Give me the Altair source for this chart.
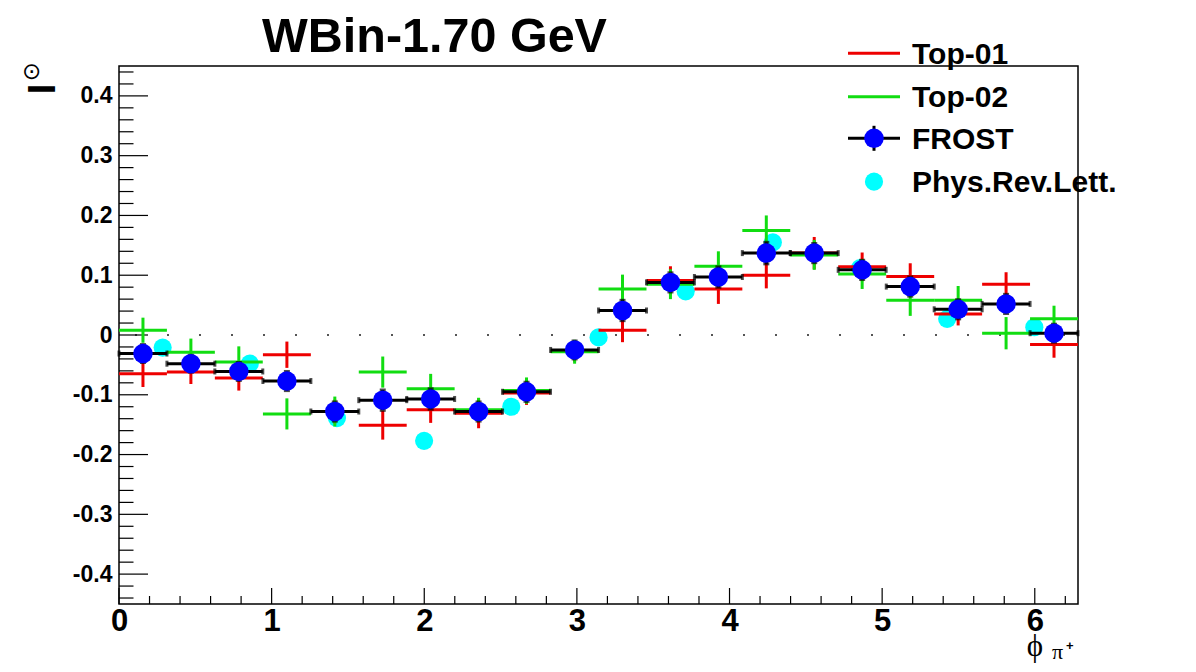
import math
import numpy as np
import pandas as pd
import altair as alt

# ---------------- data ----------------
BIN_CENTERS = [0.157, 0.471, 0.785, 1.100, 1.414, 1.728, 2.042, 2.356, 2.670, 2.985,
               3.299, 3.613, 3.927, 4.241, 4.555, 4.869, 5.184, 5.498, 5.812, 6.126]
BIN_HALF_WIDTH = 0.157

FROST_Y = [-0.031, -0.048, -0.061, -0.077, -0.128, -0.109, -0.107, -0.128, -0.095, -0.025,
           0.041, 0.088, 0.097, 0.137, 0.137, 0.109, 0.081, 0.043, 0.052, 0.003]
FROST_ERR = [0.015, 0.014, 0.015, 0.016, 0.016, 0.017, 0.017, 0.016, 0.016, 0.015,
             0.017, 0.016, 0.017, 0.018, 0.016, 0.016, 0.016, 0.016, 0.016, 0.015]

TOP01_Y = [-0.065, -0.062, -0.072, -0.033, -0.128, -0.151, -0.125, -0.131, -0.097, -0.027,
           0.008, 0.091, 0.077, 0.100, 0.137, 0.114, 0.098, 0.035, 0.085, -0.016]
TOP01_ERR = [0.022, 0.020, 0.021, 0.022, 0.020, 0.024, 0.022, 0.025, 0.020, 0.018,
             0.020, 0.024, 0.025, 0.022, 0.027, 0.024, 0.022, 0.019, 0.020, 0.022]

TOP02_Y = [0.008, -0.029, -0.045, -0.132, -0.128, -0.062, -0.090, -0.125, -0.093, -0.028,
           0.077, 0.085, 0.115, 0.175, 0.134, 0.102, 0.058, 0.058, 0.003, 0.027]
TOP02_ERR = [0.021, 0.023, 0.026, 0.026, 0.025, 0.026, 0.025, 0.020, 0.022, 0.020,
             0.024, 0.025, 0.025, 0.025, 0.025, 0.025, 0.026, 0.024, 0.027, 0.022]

PRL_X = [0.286, 0.857, 1.428, 1.999, 2.570, 3.142, 3.713, 4.284, 4.855, 5.426, 5.997]
PRL_Y = [-0.021, -0.048, -0.139, -0.177, -0.120, -0.004, 0.073, 0.155, 0.112, 0.027, 0.013]

SERIES_NAMES = ["Top-01", "Top-02", "FROST", "Phys.Rev.Lett."]
TITLE = "WBin-1.70 GeV"

X_MAJOR = [0, 1, 2, 3, 4, 5, 6]
X_MINOR = [round(0.2 * i, 1) for i in range(1, 32) if i % 5 != 0]
Y_MAJOR = [-0.4, -0.3, -0.2, -0.1, 0.0, 0.1, 0.2, 0.3, 0.4]
Y_MINOR = [round(-0.44 + 0.02 * i, 2) for i in range(45) if (i - 2) % 5 != 0]

# ---------------- styling ----------------
W, H = 959, 538
XMAX = 2 * math.pi
FONT = "Liberation Sans"
NARROW = "Liberation Sans Narrow, Liberation Sans"
SERIF = "Liberation Serif"
RED = "#ee0000"
GREEN = "#11dd11"
BLUE = "#0000ff"
CYAN = "#00ffff"

x_scale = alt.Scale(domain=[0, XMAX], nice=False, zero=False)
y_scale = alt.Scale(domain=[-0.45, 0.45], nice=False, zero=False)

x_axis = alt.Axis(values=X_MAJOR, ticks=False, tickSize=0, domain=False, grid=False, title=None,
                  labelFont=NARROW, labelFontWeight="bold", labelFontSize=31, labelColor="black",
                  labelBaseline="alphabetic", labelPadding=26, labelFlush=False, format="d")
y_axis = alt.Axis(values=Y_MAJOR, ticks=False, tickSize=0, domain=False, grid=False, title=None,
                  labelFont=FONT, labelFontWeight="bold", labelFontSize=23, labelColor="black",
                  labelPadding=7, labelFlush=False,
                  labelExpr="datum.value == 0 ? '0' : (datum.value < 0 ? '-' : '') + format(abs(datum.value), '.1f')")


def X(f):
    return alt.X(f, type="quantitative", scale=x_scale, axis=x_axis)


def Y(f):
    return alt.Y(f, type="quantitative", scale=y_scale, axis=y_axis)


def binned(values, errs):
    df = pd.DataFrame({"x": BIN_CENTERS, "y": values, "err": errs})
    df["xlo"] = df["x"] - BIN_HALF_WIDTH
    df["xhi"] = df["x"] + BIN_HALF_WIDTH
    df["ylo"] = df["y"] - df["err"]
    df["yhi"] = df["y"] + df["err"]
    return df


def crosses(df, color, width=3):
    base = alt.Chart(df)
    h = base.mark_rule(color=color, strokeWidth=width).encode(x=X("xlo"), x2=alt.X2("xhi"), y=Y("y"))
    v = base.mark_rule(color=color, strokeWidth=width).encode(x=X("x"), y=Y("ylo"), y2=alt.Y2("yhi"))
    return [h, v]


top01 = binned(TOP01_Y, TOP01_ERR)
top02 = binned(TOP02_Y, TOP02_ERR)
frost = binned(FROST_Y, FROST_ERR)
prl = pd.DataFrame({"x": PRL_X, "y": PRL_Y})

layers = []

# dotted zero line
zero = pd.DataFrame({"x0": [0.0], "x1": [XMAX], "y": [0.0]})
layers.append(alt.Chart(zero).mark_rule(color="#555555", strokeWidth=2, strokeDash=[2, 30],
                                        strokeDashOffset=16)
              .encode(x=X("x0"), x2=alt.X2("x1"), y=Y("y")))

# inward ROOT-style ticks
layers.append(alt.Chart(pd.DataFrame({"v": Y_MAJOR})).mark_rule(color="black", strokeWidth=1.2)
              .encode(y=Y("v"), x=alt.value(0), x2=alt.value(29)))
layers.append(alt.Chart(pd.DataFrame({"v": Y_MINOR})).mark_rule(color="black", strokeWidth=1.2)
              .encode(y=Y("v"), x=alt.value(0), x2=alt.value(14.5)))
layers.append(alt.Chart(pd.DataFrame({"v": X_MAJOR})).mark_rule(color="black", strokeWidth=1.2)
              .encode(x=X("v"), y=alt.value(H), y2=alt.value(H - 16)))
layers.append(alt.Chart(pd.DataFrame({"v": X_MINOR})).mark_rule(color="black", strokeWidth=1.2)
              .encode(x=X("v"), y=alt.value(H), y2=alt.value(H - 8)))

# Phys.Rev.Lett. points
layers.append(alt.Chart(prl).mark_point(filled=True, size=330, color=CYAN, opacity=1)
              .encode(x=X("x"), y=Y("y")))

# Top-01 and Top-02 crosses
layers += crosses(top01, RED)
layers += crosses(top02, GREEN)

# FROST error bars with caps and markers
layers += crosses(frost, "black", 3)
fb = alt.Chart(frost)
layers.append(fb.mark_tick(orient="vertical", color="black", size=6, thickness=3)
              .encode(x=X("xlo"), y=Y("y")))
layers.append(fb.mark_tick(orient="vertical", color="black", size=6, thickness=3)
              .encode(x=X("xhi"), y=Y("y")))
layers.append(fb.mark_tick(orient="horizontal", color="black", size=6, thickness=3)
              .encode(x=X("x"), y=Y("ylo")))
layers.append(fb.mark_tick(orient="horizontal", color="black", size=6, thickness=3)
              .encode(x=X("x"), y=Y("yhi")))
layers.append(fb.mark_point(filled=True, size=380, color=BLUE, opacity=1)
              .encode(x=X("x"), y=Y("y")))

# ---------------- legend (drawn in the top-right corner) ----------------
one = pd.DataFrame({"a": [0]})
LX0, LX1, LXC, LTX = 729, 781, 755, 793
ROWS = [-12.7, 30.7, 72.3, 115.7]
layers.append(alt.Chart(one).mark_rule(color=RED, strokeWidth=3)
              .encode(x=alt.value(LX0), x2=alt.value(LX1), y=alt.value(ROWS[0])))
layers.append(alt.Chart(one).mark_rule(color=GREEN, strokeWidth=3)
              .encode(x=alt.value(LX0), x2=alt.value(LX1), y=alt.value(ROWS[1])))
layers.append(alt.Chart(one).mark_rule(color="black", strokeWidth=3)
              .encode(x=alt.value(LX0), x2=alt.value(LX1), y=alt.value(ROWS[2])))
layers.append(alt.Chart(one).mark_rule(color="black", strokeWidth=3)
              .encode(x=alt.value(LXC), y=alt.value(ROWS[2] - 12.5), y2=alt.value(ROWS[2] + 12.5)))
layers.append(alt.Chart(one).mark_point(filled=True, size=380, color=BLUE, opacity=1)
              .encode(x=alt.value(LXC), y=alt.value(ROWS[2])))
layers.append(alt.Chart(one).mark_point(filled=True, size=330, color=CYAN, opacity=1)
              .encode(x=alt.value(LXC), y=alt.value(ROWS[3])))
for name, row in zip(SERIES_NAMES, ROWS):
    layers.append(alt.Chart(pd.DataFrame({"t": [name]}))
                  .mark_text(font=FONT, fontWeight="bold", fontSize=30, color="black",
                             align="left", baseline="alphabetic")
                  .encode(text="t:N", x=alt.value(LTX), y=alt.value(row + 10.5)))

# ---------------- title and axis titles ----------------
layers.append(alt.Chart(pd.DataFrame({"t": [TITLE]}))
              .mark_text(font=FONT, fontWeight="bold", fontSize=48.5, color="black",
                         align="left", baseline="alphabetic")
              .encode(text="t:N", x=alt.value(143), y=alt.value(-14.5)))
# y title: I with superscript odot, rotated
layers.append(alt.Chart(pd.DataFrame({"t": ["I"]}))
              .mark_text(font=FONT, fontWeight="bold", fontSize=38, color="black",
                         align="center", baseline="alphabetic", angle=270)
              .encode(text="t:N", x=alt.value(-64), y=alt.value(23)))
layers.append(alt.Chart(pd.DataFrame({"t": ["⊙"]}))
              .mark_text(font="DejaVu Sans", fontSize=23, color="black",
                         align="center", baseline="middle")
              .encode(text="t:N", x=alt.value(-87.3), y=alt.value(6.2)))
# x title: phi with subscript pi+
layers.append(alt.Chart(pd.DataFrame({"t": ["ϕ"]}))
              .mark_text(font=SERIF, fontSize=31, color="black",
                         align="center", baseline="alphabetic")
              .encode(text="t:N", x=alt.value(916), y=alt.value(590)))
layers.append(alt.Chart(pd.DataFrame({"t": ["π"]}))
              .mark_text(font=SERIF, fontSize=22, color="black",
                         align="left", baseline="alphabetic")
              .encode(text="t:N", x=alt.value(933), y=alt.value(593)))
layers.append(alt.Chart(pd.DataFrame({"t": ["+"]}))
              .mark_text(font=FONT, fontWeight="bold", fontSize=13, color="black",
                         align="left", baseline="alphabetic")
              .encode(text="t:N", x=alt.value(947), y=alt.value(584)))

chart = (
    alt.layer(*layers)
    .properties(width=W, height=H, autosize=alt.AutoSizeParams(type="none"),
                padding={"left": 111, "top": 58, "right": 110, "bottom": 60},
                background="white")
    .configure_view(stroke="black", strokeWidth=1.5)
)

chart.save("out.html", embed_options={"renderer": "svg", "actions": False})
